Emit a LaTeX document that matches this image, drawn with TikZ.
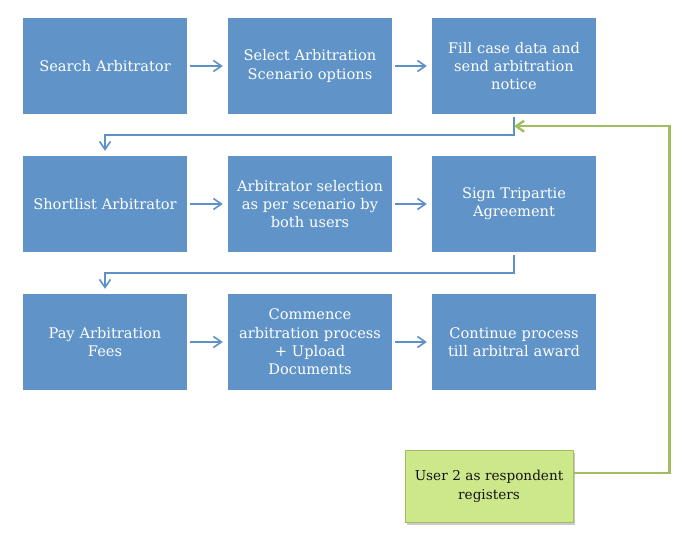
\documentclass[tikz,border=0pt]{standalone}
\usepackage{fontspec}
\setmainfont{DejaVu Serif}
\usetikzlibrary{arrows.meta, shadows}
\usepackage{xcolor}
\definecolor{stepblue}{RGB}{96, 148, 200}
\definecolor{lineblue}{RGB}{94, 145, 198}
\definecolor{usergreen}{RGB}{205, 231, 139}
\definecolor{userborder}{RGB}{160, 190, 95}
\definecolor{textdark}{RGB}{20, 20, 20}

\begin{document}
\begin{tikzpicture}[
    x=1pt, y=-1pt,
    stepbox/.style={rectangle, fill=stepblue, minimum width=164pt, minimum height=96pt, text width=162pt, align=center, text=white, font=\fontsize{14.6}{18.4}\selectfont, inner sep=0pt},
    userbox/.style={rectangle, draw=userborder, fill=usergreen, minimum width=168pt, minimum height=72pt, text width=166pt, align=center, text=textdark, font=\fontsize{13.6}{19}\selectfont, inner sep=0pt, line width=0.8pt, drop shadow={opacity=0.35, fill=black!60, shadow xshift=2pt, shadow yshift=-2.5pt}},
    arrow/.style={-{Straight Barb[length=8pt, width=11pt]}, line width=1.6pt, color=lineblue, shorten <=3pt, shorten >=5pt},
    greenarrow/.style={-{Straight Barb[length=8pt, width=11pt]}, line width=2.4pt, color=userborder},
]
\useasboundingbox (0,0) rectangle (700,540);

% Row 1
\node[stepbox] (search) at (105, 66) {Search Arbitrator};
\node[stepbox] (select) at (310, 66) {Select Arbitration\\Scenario options};
\node[stepbox] (notice) at (514, 66) {Fill case data and\\send arbitration\\notice};

% Row 2
\node[stepbox] (shortlist) at (105, 204) {Shortlist Arbitrator};
\node[stepbox] (selection) at (310, 204) {Arbitrator selection\\as per scenario by\\both users};
\node[stepbox] (sign) at (514, 204) {Sign Tripartie\\Agreement};

% Row 3
\node[stepbox] (fees) at (105, 342) {Pay Arbitration\\Fees};
\node[stepbox] (commence) at (310, 342) {Commence\\arbitration process\\+ Upload\\Documents};
\node[stepbox] (award) at (514, 342) {Continue process\\till arbitral award};

% Respondent
\node[userbox] (user) at (489, 486) {User 2 as respondent\\registers};

% Arrows
\draw[arrow] (search) -- (select);
\draw[arrow] (select) -- (notice);
\draw[arrow] (notice.south) -- ++(0, 21) -| (shortlist.north);
\draw[arrow] (shortlist) -- (selection);
\draw[arrow] (selection) -- (sign);
\draw[arrow] (sign.south) -- ++(0, 21) -| (fees.north);
\draw[arrow] (fees) -- (commence);
\draw[arrow] (commence) -- (award);

% Respondent joins
\draw[greenarrow] ([yshift=13pt]user.east) -- ++(96, 0) |- ([yshift=-12pt]notice.south);

\end{tikzpicture}
\end{document}
